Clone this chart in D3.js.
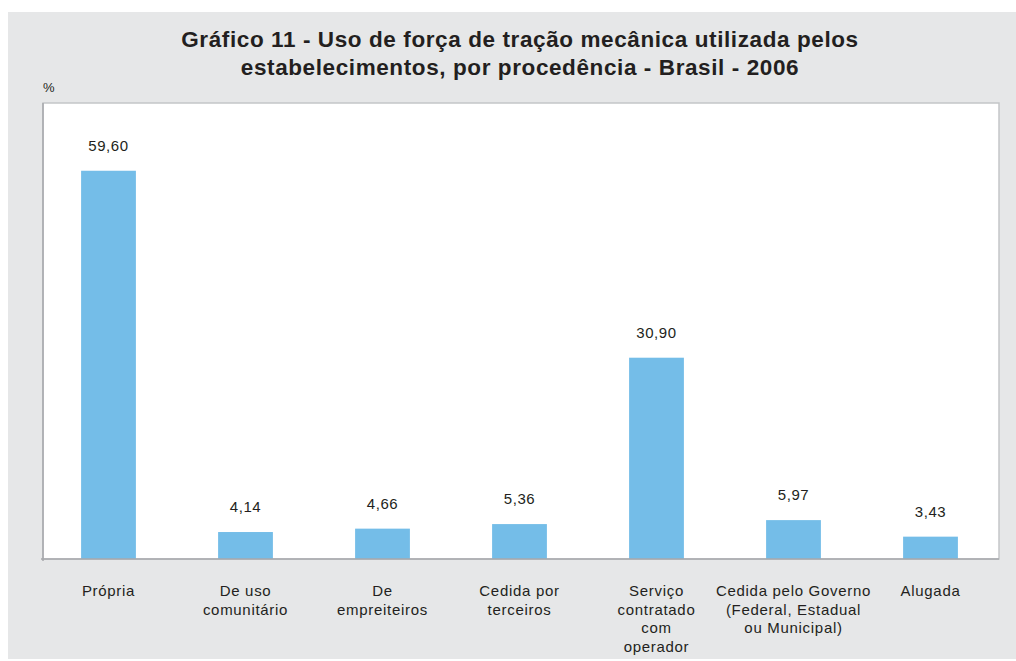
<!DOCTYPE html>
<html>
<head>
  <meta charset="utf-8">
  <script src="https://d3js.org/d3.v7.min.js"></script>
  <style>
    body { margin: 0; background: #fff; }
    text { font-family: "Liberation Sans", Arial, sans-serif; fill: #231f20; }
  </style>
</head>
<body>
<div id="chart"></div>
<script>

    const categories = [
        ["Própria"],
        ["De uso", "comunitário"],
        ["De", "empreiteiros"],
        ["Cedida por", "terceiros"],
        ["Serviço", "contratado", "com", "operador"],
        ["Cedida pelo Governo", "(Federal, Estadual", "ou Municipal)"],
        ["Alugada"]
    ]
    const values = [59.60, 4.14, 4.66, 5.36, 30.90, 5.97, 3.43]
    const titleLines = [
        "Gráfico 11 - Uso de força de tração mecânica utilizada pelos",
        "estabelecimentos, por procedência - Brasil - 2006"
    ]
    const yDomain = [0, 70]

    const width = 1016,
        height = 661

    const plot = { left: 43, right: 999, top: 103, bottom: 559 }

    var svg = d3.select("#chart").append("svg")
        .attr("width", width)
        .attr("height", height)

    // grey card
    svg.append("rect")
        .attr("x", 8).attr("y", 12)
        .attr("width", width - 8).attr("height", 647)
        .attr("fill", "#e6e7e8")

    // plot area
    svg.append("rect")
        .attr("x", plot.left).attr("y", plot.top)
        .attr("width", plot.right - plot.left)
        .attr("height", plot.bottom - plot.top)
        .attr("fill", "#fff")
        .attr("stroke", "#c4c6c8")
        .attr("stroke-width", 1.5)

    var xScale = d3.scaleBand()
        .domain(d3.range(categories.length))
        .range([plot.left - 3, plot.right])
        .paddingInner(0.6)
        .paddingOuter(0.3)

    var yScale = d3.scaleLinear()
        .domain(yDomain)
        .range([plot.bottom, plot.top])

    svg.selectAll("rect.bar")
        .data(values).enter()
        .append("rect")
        .classed("bar", true)
        .attr("x", (d, i) => xScale(i))
        .attr("y", d => yScale(d))
        .attr("width", xScale.bandwidth())
        .attr("height", d => yScale(0) - yScale(d))
        .attr("fill", "#74bde8")

    // axis lines (left & bottom a bit darker)
    svg.append("line")
        .attr("x1", plot.left).attr("x2", plot.left)
        .attr("y1", plot.top).attr("y2", plot.bottom + 2)
        .attr("stroke", "#a7a9ac").attr("stroke-width", 1.5)
    svg.append("line")
        .attr("x1", plot.left - 2).attr("x2", plot.right)
        .attr("y1", plot.bottom).attr("y2", plot.bottom)
        .attr("stroke", "#a7a9ac").attr("stroke-width", 1.5)

    const fmt = d3.format(".2f")

    svg.selectAll("text.value")
        .data(values).enter()
        .append("text")
        .classed("value", true)
        .attr("x", (d, i) => xScale(i) + xScale.bandwidth() / 2)
        .attr("y", d => yScale(d) - 20)
        .attr("text-anchor", "middle")
        .attr("font-size", 15)
        .attr("letter-spacing", 0.6)
        .text(d => fmt(d).replace(".", ","))

    var cat = svg.selectAll("text.cat")
        .data(categories).enter()
        .append("text")
        .classed("cat", true)
        .attr("text-anchor", "middle")
        .attr("font-size", 15)
        .attr("letter-spacing", 0.7)
        .attr("transform", (d, i) => `translate(${xScale(i) + xScale.bandwidth() / 2}, 596)`)

    cat.selectAll("tspan")
        .data(d => d).enter()
        .append("tspan")
        .attr("x", 0)
        .attr("y", (d, j) => j * 18.5)
        .text(d => d)

    svg.append("text")
        .attr("x", 520).attr("y", 47)
        .attr("text-anchor", "middle")
        .attr("font-size", 22.5)
        .attr("letter-spacing", 0.6)
        .attr("font-weight", "bold")
        .selectAll("tspan")
        .data(titleLines).enter()
        .append("tspan")
        .attr("x", 520)
        .attr("dy", (d, i) => i ? 28 : 0)
        .text(d => d)

    svg.append("text")
        .attr("x", 43).attr("y", 92)
        .attr("font-size", 13)
        .text("%")

</script>
</body>
</html>
